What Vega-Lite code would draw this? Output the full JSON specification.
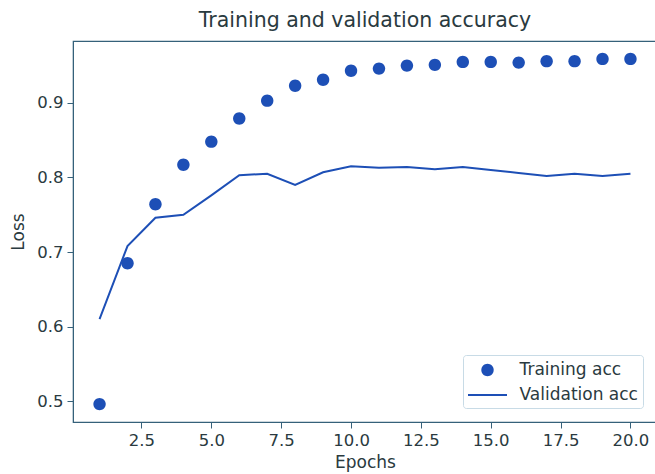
{
  "$schema": "https://vega.github.io/schema/vega-lite/v6.json",
  "autosize": "none",
  "width": 584,
  "height": 381,
  "padding": {"left": 73, "top": 41, "right": 0, "bottom": 52},
  "background": "white",
  "title": {"text": "Training and validation accuracy", "fontSize": 20.5, "font": "DejaVu Sans", "fontWeight": "normal", "color": "#2a3a40", "offset": 10, "anchor": "middle"},
  "config": {
    "view": {"stroke": "#35617a", "strokeWidth": 1.2},
    "font": "DejaVu Sans",
    "axis": {"grid": false, "domainColor": "#35617a", "tickColor": "#35617a", "tickSize": 6, "labelFontSize": 16.5, "labelColor": "#2a3a40", "titleFontSize": 17, "titleFontWeight": "normal", "titleColor": "#2a3a40", "labelFont": "DejaVu Sans", "titleFont": "DejaVu Sans"}
  },
  "data": {"values": [
    {"epoch": 1, "train": 0.496, "val": 0.610},
    {"epoch": 2, "train": 0.685, "val": 0.708},
    {"epoch": 3, "train": 0.764, "val": 0.746},
    {"epoch": 4, "train": 0.817, "val": 0.750},
    {"epoch": 5, "train": 0.848, "val": 0.776},
    {"epoch": 6, "train": 0.879, "val": 0.803},
    {"epoch": 7, "train": 0.903, "val": 0.805},
    {"epoch": 8, "train": 0.923, "val": 0.790},
    {"epoch": 9, "train": 0.931, "val": 0.807},
    {"epoch": 10, "train": 0.943, "val": 0.815},
    {"epoch": 11, "train": 0.946, "val": 0.813},
    {"epoch": 12, "train": 0.950, "val": 0.814},
    {"epoch": 13, "train": 0.951, "val": 0.811},
    {"epoch": 14, "train": 0.955, "val": 0.814},
    {"epoch": 15, "train": 0.955, "val": 0.810},
    {"epoch": 16, "train": 0.954, "val": 0.806},
    {"epoch": 17, "train": 0.956, "val": 0.802},
    {"epoch": 18, "train": 0.956, "val": 0.805},
    {"epoch": 19, "train": 0.959, "val": 0.802},
    {"epoch": 20, "train": 0.959, "val": 0.805}
  ]},
  "encoding": {
    "x": {"field": "epoch", "type": "quantitative", "scale": {"domain": [0.05, 20.95], "nice": false, "zero": false},
      "axis": {"values": [2.5, 5, 7.5, 10, 12.5, 15, 17.5, 20], "format": ".1f", "title": "Epochs", "titlePadding": 6, "labelPadding": 4}}
  },
  "layer": [
    {
      "mark": {"type": "line", "color": "#1d4fb6", "strokeWidth": 2},
      "encoding": {
        "y": {"field": "val", "type": "quantitative", "scale": {"domain": [0.472, 0.983], "nice": false, "zero": false},
          "axis": {"values": [0.5, 0.6, 0.7, 0.8, 0.9], "format": ".1f", "title": "Loss", "titlePadding": 9, "labelPadding": 4}}
      }
    },
    {
      "mark": {"type": "point", "filled": true, "opacity": 1, "size": 400, "color": "#1d4fb6", "strokeWidth": 0},
      "encoding": {
        "y": {"field": "train", "type": "quantitative"},
        "shape": {"datum": "Training acc", "type": "nominal",
          "scale": {"domain": ["Training acc", "Validation acc"], "range": ["M-0.62,0A0.62,0.62,0,1,0,0.62,0A0.62,0.62,0,1,0,-0.62,0Z", "M-1.95,-0.1L1.95,-0.1L1.95,0.1L-1.95,0.1Z"]},
          "legend": {"title": null, "orient": "none", "legendX": 390, "legendY": 314, "labelFontSize": 17, "labelColor": "#2a3a40", "labelFont": "DejaVu Sans", "symbolSize": 400, "symbolFillColor": "#1d4fb6", "symbolStrokeWidth": 0, "symbolOpacity": 1, "symbolOffset": 9.5, "rowPadding": 7, "labelOffset": 22, "padding": 5, "strokeColor": "#c8dbe6", "fillColor": "white", "cornerRadius": 3}}
      }
    }
  ]
}
